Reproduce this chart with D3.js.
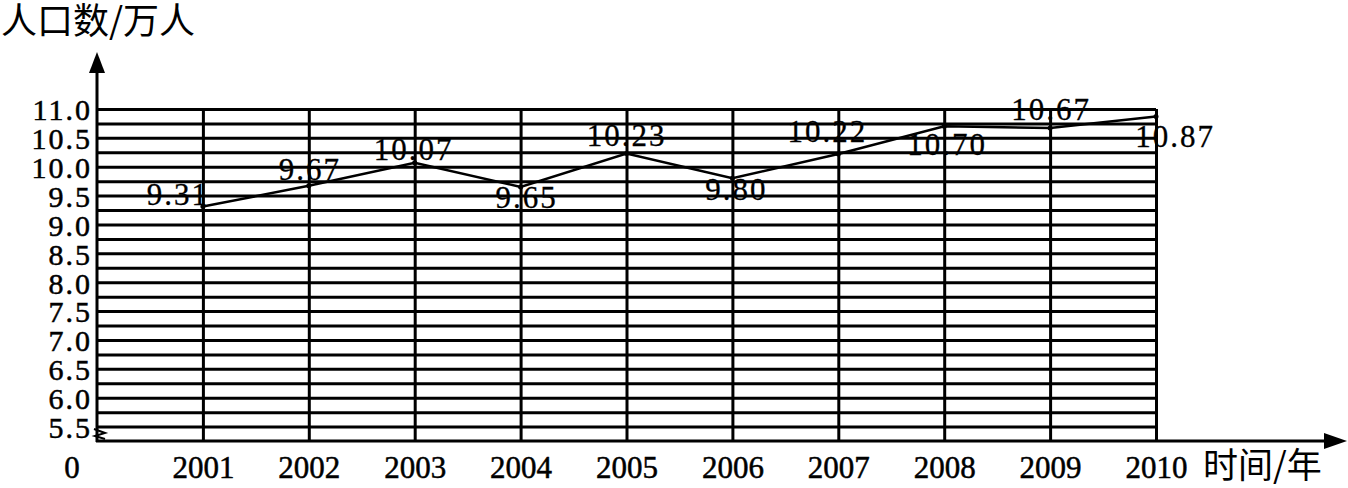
<!DOCTYPE html>
<html><head><meta charset="utf-8">
<script src="https://cdn.jsdelivr.net/npm/d3@7"></script>
<style>
html,body{margin:0;padding:0;background:#fff;}
svg{display:block;}
</style></head>
<body>
<svg id="chart" width="1348" height="488"></svg>
<script>
// ---- data ----
const years = [2001, 2002, 2003, 2004, 2005, 2006, 2007, 2008, 2009, 2010];
const population = [9.31, 9.67, 10.07, 9.65, 10.23, 9.80, 10.22, 10.70, 10.67, 10.87];
const valueLabels = ["9.31", "9.67", "10.07", "9.65", "10.23", "9.80", "10.22", "10.70", "10.67", "10.87"];
const yTickValues = [5.5, 6.0, 6.5, 7.0, 7.5, 8.0, 8.5, 9.0, 9.5, 10.0, 10.5, 11.0];
const yTitle = "人口数/万人";
const xTitle = "时间/年";
// label offsets (pixels) relative to each point: [dx, dy baseline]
const labelOffsets = [[-25, -2], [1, -6], [-1, -3], [6, 21], [0, -7], [4, 22], [-11, -12], [3, 29], [1, -8], [19, 30]];

const svg = d3.select("#chart");
const x = d3.scaleLinear().domain([2000, 2010]).range([97, 1156]);
const y = d3.scaleLinear().domain([5.25, 11]).range([441, 109]);
const numFont = "'Liberation Serif', 'DejaVu Serif', serif";
const cjkFont = "'Noto Sans CJK SC', sans-serif";

// horizontal grid lines (every 0.25)
const gridVals = d3.range(5.5, 11.001, 0.25);
svg.append("g").attr("transform", `translate(${x(2000)},0)`)
  .call(d3.axisRight(y).tickValues(gridVals).tickSize(x(2010) - x(2000)).tickFormat(""))
  .call(g => g.select(".domain").remove())
  .call(g => g.selectAll("line").attr("stroke", "#000").attr("stroke-width", 3));

// vertical grid lines
svg.append("g").attr("transform", `translate(0,${y(5.25)})`)
  .call(d3.axisTop(x).tickValues(years).tickSize(y(5.25) - y(11)).tickFormat(""))
  .call(g => g.select(".domain").remove())
  .call(g => g.selectAll("line").attr("stroke", "#000").attr("stroke-width", 3));

// y axis line with arrow
svg.append("line").attr("x1", x(2000)).attr("x2", x(2000)).attr("y1", y(5.25) + 1).attr("y2", 62)
  .attr("stroke", "#000").attr("stroke-width", 3);
svg.append("path").attr("d", `M${x(2000)},52 L${x(2000) - 8},73 L${x(2000) + 8},73 Z`).attr("fill", "#000");

// x axis line with arrow
svg.append("line").attr("x1", x(2000) - 1).attr("x2", 1336).attr("y1", y(5.25)).attr("y2", y(5.25))
  .attr("stroke", "#000").attr("stroke-width", 3);
svg.append("path").attr("d", `M1347,${y(5.25)} L1324,${y(5.25) - 8} L1324,${y(5.25) + 8} Z`).attr("fill", "#000");

// axis break symbol
svg.append("path")
  .attr("d", `M${x(2000) - 3},${y(5.25) - 12} L${x(2000) + 8},${y(5.25) - 8} L${x(2000) - 2},${y(5.25) - 5} L${x(2000) + 8},${y(5.25) - 2}`)
  .attr("fill", "none").attr("stroke", "#000").attr("stroke-width", 2);

// y tick labels
svg.append("g").attr("transform", `translate(${x(2000) - 5},0)`)
  .call(d3.axisLeft(y).tickValues(yTickValues).tickSize(0).tickPadding(0).tickFormat(d3.format(".1f")))
  .call(g => g.select(".domain").remove())
  .call(g => g.selectAll("text").attr("font-family", numFont).attr("font-size", 30)
    .attr("letter-spacing", "2px").attr("fill", "#000").attr("stroke", "#000").attr("stroke-width", 0.5)
    .attr("dy", "0.36em"));

// x tick labels
svg.append("g").attr("transform", `translate(0,${y(5.25)})`)
  .call(d3.axisBottom(x).tickValues(years).tickSize(0).tickPadding(0).tickFormat(d3.format("d")))
  .call(g => g.select(".domain").remove())
  .call(g => g.selectAll("text").attr("font-family", numFont).attr("font-size", 31)
    .attr("fill", "#000").attr("stroke", "#000").attr("stroke-width", 0.5).attr("y", 37).attr("dy", 0));

// origin label
svg.append("text").attr("x", 72).attr("y", 478).attr("text-anchor", "middle")
  .attr("font-family", numFont).attr("font-size", 31).attr("stroke", "#000").attr("stroke-width", 0.5).text("0");

// data line
const line = d3.line().x((d, i) => x(years[i])).y(d => y(d));
svg.append("path").datum(population).attr("d", line)
  .attr("fill", "none").attr("stroke", "#000").attr("stroke-width", 2.5);
svg.append("g").selectAll("circle").data(population).join("circle")
  .attr("cx", (d, i) => x(years[i])).attr("cy", d => y(d)).attr("r", 2.5).attr("fill", "#000");

// value labels
svg.append("g").selectAll("text").data(population).join("text")
  .attr("x", (d, i) => x(years[i]) + labelOffsets[i][0])
  .attr("y", (d, i) => y(d) + labelOffsets[i][1])
  .attr("text-anchor", "middle")
  .attr("font-family", numFont).attr("font-size", 31).attr("letter-spacing", "2px")
  .attr("fill", "#000").attr("stroke", "#000").attr("stroke-width", 0.3)
  .text((d, i) => valueLabels[i]);

// titles
svg.append("text").attr("x", 1).attr("y", 34).attr("font-family", cjkFont).attr("font-size", 36)
  .attr("fill", "#000").text(yTitle);
svg.append("text").attr("x", 1203).attr("y", 478).attr("font-family", cjkFont).attr("font-size", 35)
  .attr("fill", "#000").text(xTitle);
</script>
</body></html>
